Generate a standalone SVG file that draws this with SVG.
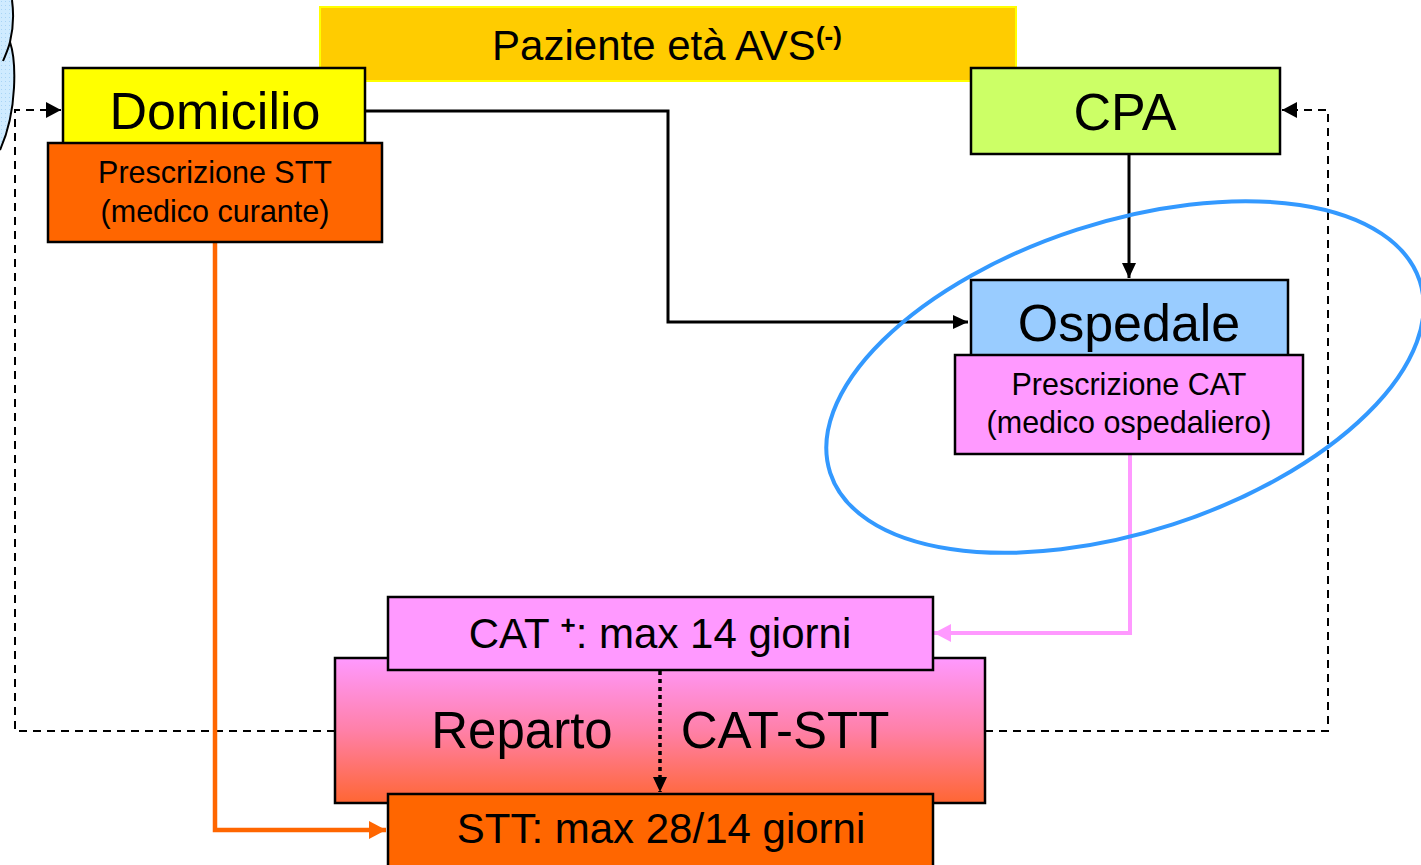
<svg xmlns="http://www.w3.org/2000/svg" width="1421" height="865" viewBox="0 0 1421 865">
<style>
.box{stroke:#000;stroke-width:2.5}
.t{font-family:"Liberation Sans",Arial,sans-serif;fill:#000;text-anchor:middle}
.big{font-size:52px}
.med{font-size:42px}
.sm{font-size:30.5px}
.conn{fill:none}
</style>
<defs>
<linearGradient id="rep" x1="0" y1="0" x2="0" y2="1">
<stop offset="0" stop-color="#FF99FF"/>
<stop offset="0.5" stop-color="#FF80A8"/>
<stop offset="1" stop-color="#FF6633"/>
</linearGradient>
<pattern id="dots" width="4" height="4" patternUnits="userSpaceOnUse">
<rect width="4" height="4" fill="#CFEBFF"/>
<rect x="1" y="1" width="1" height="1" fill="#A8D4F5"/>
</pattern>
<marker id="ah" markerUnits="userSpaceOnUse" markerWidth="16" markerHeight="14" refX="15" refY="7" orient="auto">
<path d="M0,0 L15,7 L0,14 Z" fill="#000"/>
</marker>
<marker id="ahd" markerUnits="userSpaceOnUse" markerWidth="16" markerHeight="16" refX="15" refY="8" orient="auto">
<path d="M0,0 L15,8 L0,16 Z" fill="#000"/>
</marker>
<marker id="ahp" markerUnits="userSpaceOnUse" markerWidth="18" markerHeight="18" refX="17" refY="9" orient="auto">
<path d="M0,0 L17,9 L0,18 Z" fill="#FF99FF"/>
</marker>
<marker id="aho" markerUnits="userSpaceOnUse" markerWidth="18" markerHeight="18" refX="17" refY="9" orient="auto">
<path d="M0,0 L17,9 L0,18 Z" fill="#FF6600"/>
</marker>
</defs>

<g id="cloud">
<path d="M0,0 L12,0 C14,15 13,30 10,42 C16,60 18,110 0,150 Z" fill="url(#dots)"/>
<path d="M12,0 C14,15 13,30 10,42 C8,50 5,56 3,61" fill="none" stroke="#000" stroke-width="2"/>
<path d="M10,42 C16,60 18,110 0,150" fill="none" stroke="#000" stroke-width="2"/>
</g>

<g id="paziente">
<rect x="320" y="7" width="696" height="74" fill="#FFCC00" stroke="#FFFF00" stroke-width="2"/>
<text class="t med" x="667" y="60">Paziente età AVS<tspan font-size="26" font-weight="bold" dy="-15">(-)</tspan></text>
</g>

<g id="connectors">
<path class="conn" d="M366,111 H668 V322 H968" stroke="#000" stroke-width="3" marker-end="url(#ah)"/>
<path class="conn" d="M1129,154 V278" stroke="#000" stroke-width="3" marker-end="url(#ah)"/>
<path class="conn" d="M335,731 H15 V110 H61" stroke="#000" stroke-width="2" stroke-dasharray="8,6" marker-end="url(#ahd)"/>
<path class="conn" d="M985,731 H1328 V110 H1282" stroke="#000" stroke-width="2" stroke-dasharray="8,6" marker-end="url(#ahd)"/>
<path class="conn" d="M1130,454 V633 H934" stroke="#FF99FF" stroke-width="4" marker-end="url(#ahp)"/>
<path class="conn" d="M215,243 V830 H386" stroke="#FF6600" stroke-width="4.5" marker-end="url(#aho)"/>
</g>

<g id="domicilio">
<rect class="box" x="63" y="68" width="302" height="80" fill="#FFFF00"/>
<text class="t big" x="215" y="129">Domicilio</text>
</g>
<g id="prescrizione-stt">
<rect class="box" x="48" y="143" width="334" height="99" fill="#FF6600"/>
<text class="t sm" x="215" y="183">Prescrizione STT</text>
<text class="t sm" x="215" y="222">(medico curante)</text>
</g>

<g id="cpa">
<rect class="box" x="971" y="68" width="309" height="86" fill="#CCFF66"/>
<text class="t big" x="1125" y="130">CPA</text>
</g>

<g id="ospedale">
<rect class="box" x="971" y="280" width="317" height="80" fill="#99CCFF"/>
<text class="t big" x="1129" y="341">Ospedale</text>
</g>
<g id="prescrizione-cat">
<rect class="box" x="955" y="355" width="348" height="99" fill="#FF99FF"/>
<text class="t sm" x="1129" y="395">Prescrizione CAT</text>
<text class="t sm" x="1129" y="433">(medico ospedaliero)</text>
</g>

<g id="focus-ellipse">
<ellipse cx="1125" cy="377" rx="310" ry="155" transform="rotate(-18 1125 377)" fill="none" stroke="#3399FF" stroke-width="4"/>
</g>

<g id="reparto">
<rect class="box" x="335" y="658" width="650" height="145" fill="url(#rep)"/>
<text class="t" font-size="51" x="522" y="748">Reparto</text>
<text class="t" font-size="51" x="785" y="748">CAT-STT</text>
</g>

<g id="cat-plus">
<rect class="box" x="388" y="597" width="545" height="73" fill="#FF99FF"/>
<text class="t med" x="660" y="648">CAT <tspan font-size="26" font-weight="bold" dy="-14">+</tspan><tspan dy="14">: max 14 giorni</tspan></text>
</g>

<g id="stt">
<rect class="box" x="388" y="794" width="545" height="75" fill="#FF6600"/>
<text class="t med" x="661" y="843">STT: max 28/14 giorni</text>
</g>

<g id="dotted-arrow">
<path class="conn" d="M660,671 V792" stroke="#000" stroke-width="3.5" stroke-dasharray="4,4" marker-end="url(#ah)"/>
</g>
</svg>
